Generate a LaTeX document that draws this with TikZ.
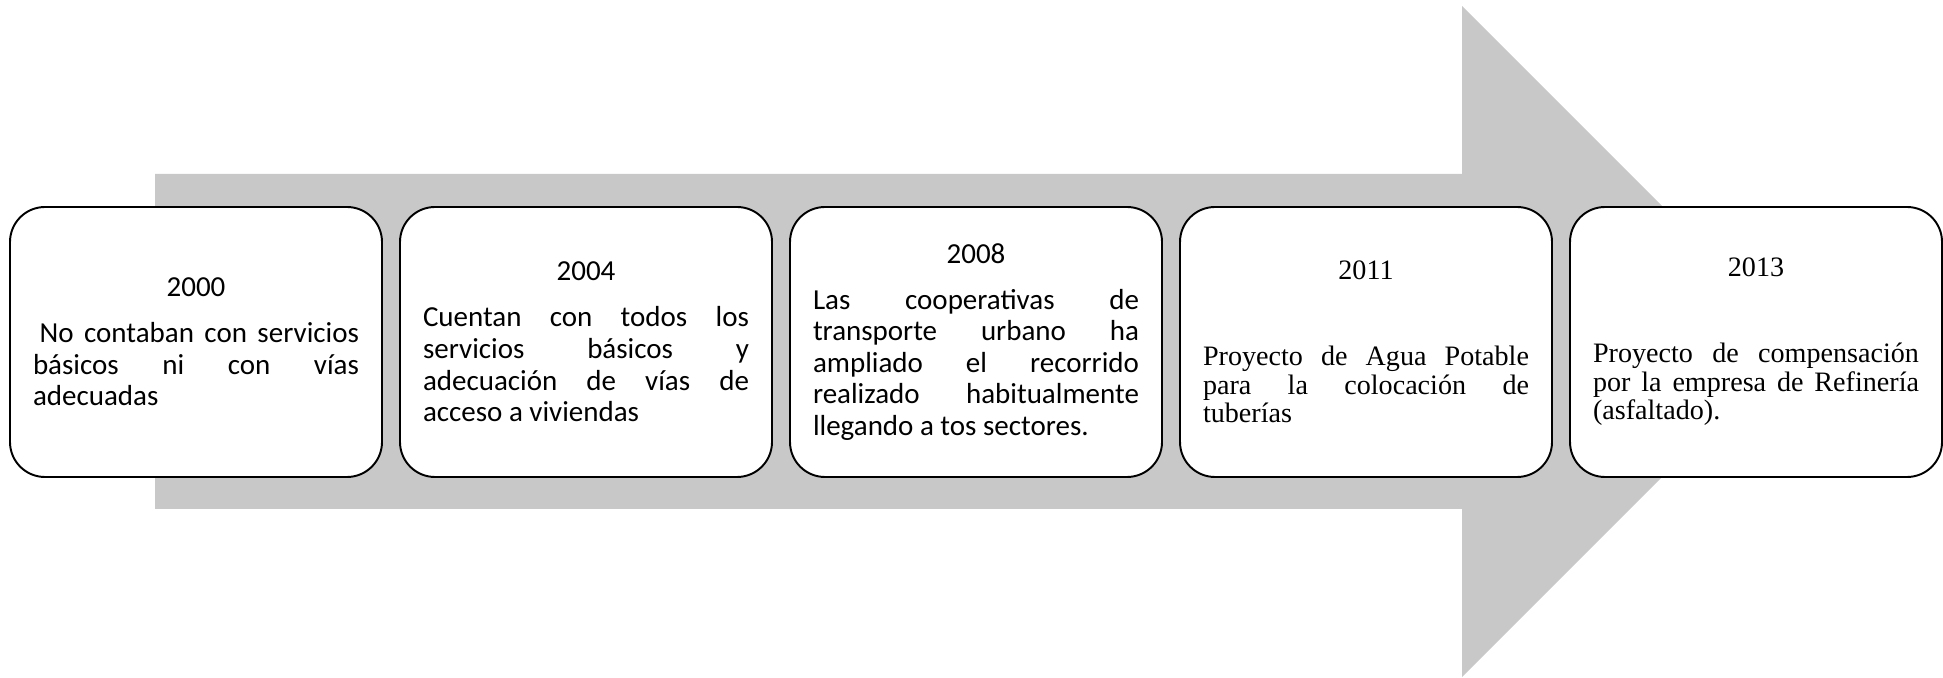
\documentclass[tikz,border=0pt]{standalone}
\usepackage{fontspec}
\setmainfont{Carlito}
\newfontfamily\timesfont{Liberation Serif}
\usepackage{xcolor}
\usetikzlibrary{positioning}
\definecolor{flechagris}{RGB}{200,200,200}
\hbadness=10000
\tolerance=10000

\begin{document}
\begin{tikzpicture}[node distance=0.36cm,
    hito/.style={draw, rectangle, rounded corners=0.7cm, line width=1.1pt, fill=white, text width=6.52cm, inner xsep=0.46cm, minimum height=5.4cm, outer sep=0pt, align=justify},
    calibri/.style={font=\fontsize{16.5}{18}\selectfont},
    times/.style={font=\timesfont\fontsize{16}{16.2}\selectfont}]
    \useasboundingbox (0,0) rectangle (38.86,13.54);
    % Define the arrow
    \fill[flechagris] (3.10,3.36) -- (29.24,3.36) -- (29.24,0) -- (35.95,6.71) -- (29.24,13.42) -- (29.24,10.06) -- (3.10,10.06) -- cycle;

    % Define the milestones
    \node[hito, calibri] (h1) at (3.92,6.7) {{\centering 2000\par}\vspace{0.285cm}\hspace*{0.23em}No contaban con servicios\linebreak básicos ni con vías\linebreak adecuadas};
    \node[hito, calibri, right=of h1] (h2) {{\centering 2004\par}\vspace{0.285cm}Cuentan con todos los\linebreak servicios básicos y\linebreak adecuación de vías de\linebreak acceso a viviendas};
    \node[hito, calibri, right=of h2] (h3) {{\centering 2008\par}\vspace{0.285cm}Las cooperativas de\linebreak transporte urbano ha\linebreak ampliado el recorrido\linebreak realizado habitualmente\linebreak llegando a tos sectores.};
    \node[hito, times, right=of h3] (h4) {{\centering 2011\par}\vspace{1.15cm}Proyecto de Agua Potable\linebreak para la colocación de\linebreak tuberías};
    \node[hito, times, right=of h4] (h5) {{\centering 2013\par}\vspace{1.15cm}Proyecto de compensación\linebreak por la empresa de Refinería\linebreak (asfaltado).};

\end{tikzpicture}
\end{document}
